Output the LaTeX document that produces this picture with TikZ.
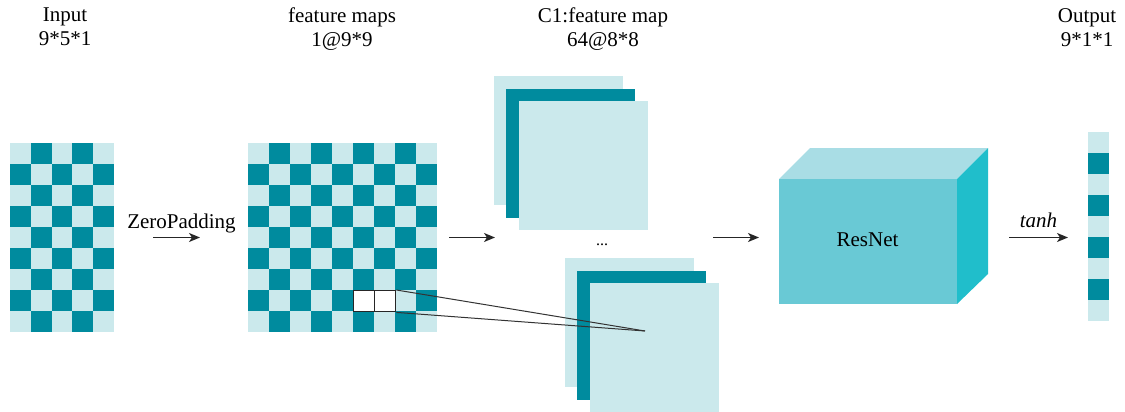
\documentclass[tikz,border=0pt]{standalone}
\usepackage{fontspec}
\setmainfont{Liberation Serif}
\usetikzlibrary{arrows.meta}
\definecolor{dk}{HTML}{008B9E}
\definecolor{lt}{HTML}{CBE9EC}
\definecolor{cubefront}{HTML}{69C9D5}
\definecolor{cubetop}{HTML}{A9DDE5}
\definecolor{cuberight}{HTML}{20BECB}
\begin{document}
\begin{tikzpicture}[x=1pt,y=-1pt,
  font=\fontsize{21}{24}\selectfont,
  arr/.style={-{Stealth[length=11pt,width=9pt,inset=3pt]}, line width=1.4pt, draw=black!85},
  lbl/.style={align=center, inner sep=0pt, anchor=north},
  winbox/.style={draw=black!85, line width=1.4pt, fill=white},
  cone/.style={draw=black!80, line width=1pt}]
\useasboundingbox (0,0) rectangle (1125,412);

% ---------- labels ----------
\node[lbl] (tin)  at (65,8)   {Input\\9*5*1};
\node[lbl] (tfm)  at (342,8)  {feature maps\\1@9*9};
\node[lbl] (tc1)  at (603,8)  {C1:feature map\\64@8*8};
\node[lbl] (tout) at (1087,8) {Output\\9*1*1};

% ---------- input grid 9x5 ----------
\fill[lt] (10,143) rectangle (114,332);
\foreach \r in {0,...,8}{
  \foreach \c in {0,...,4}{
    \ifodd\numexpr\r+\c\relax
      \fill[dk] ({10+20.8*\c},{143+21*\r}) rectangle ({10+20.8*(\c+1)},{143+21*(\r+1)});
    \fi
  }
}

% ---------- feature map grid 9x9 ----------
\fill[lt] (248,143) rectangle (437,332);
\foreach \r in {0,...,8}{
  \foreach \c in {0,...,8}{
    \ifodd\numexpr\r+\c\relax
      \fill[dk] ({248+21*\c},{143+21*\r}) rectangle ({248+21*(\c+1)},{143+21*(\r+1)});
    \fi
  }
}
\node[winbox, minimum width=21pt, minimum height=21pt, inner sep=0pt, anchor=north west] (w1) at (353,290) {};
\node[winbox, minimum width=21pt, minimum height=21pt, inner sep=0pt, anchor=north west] (w2) at (374,290) {};

% ---------- C1 stacks ----------
\fill[lt] (494,76) rectangle (623,205);
\fill[dk] (506,89) rectangle (635,218);
\fill[lt] (519,101) rectangle (648,230);

\fill[lt] (565,258) rectangle (694,387);
\fill[dk] (577,271) rectangle (706,400);
\node[fill=lt, inner sep=0pt, minimum width=129pt, minimum height=129pt, anchor=north west] (front) at (590,283) {};

\node[font=\fontsize{16}{18}\selectfont, anchor=base] (dots) at (602,245) {...};

% cone from window to front map
\coordinate (apex) at (645,331);
\draw[cone] (w2.north east) -- (apex);
\draw[cone] (w2.south east) -- (apex);

% ---------- ResNet cube ----------
\fill[cubetop] (779,179) -- (810,148) -- (988,148) -- (957,179) -- cycle;
\fill[cuberight] (957,179) -- (988,148) -- (988,274) -- (957,304) -- cycle;
\node[fill=cubefront, minimum width=178pt, minimum height=125pt, inner sep=0pt, anchor=north west] (resnet) at (779,179) {};
\node[anchor=base] (rtxt) at (867.5,246) {ResNet};

% ---------- output column ----------
\fill[lt] (1088,132) rectangle (1109,321);
\foreach \r in {1,3,5,7}{
  \fill[dk] (1088,{132+21*\r}) rectangle (1109,{132+21*(\r+1)});
}

% ---------- arrows ----------
\coordinate (a1s) at (153,237.5); \coordinate (a1e) at (200,237.5);
\coordinate (a2s) at (449,237.5); \coordinate (a2e) at (495,237.5);
\coordinate (a3s) at (713,237.5); \coordinate (a3e) at (759,237.5);
\coordinate (a4s) at (1009,237.5); \coordinate (a4e) at (1068,237.5);
\draw[arr] (a1s) -- (a1e);
\draw[arr] (a2s) -- (a2e);
\draw[arr] (a3s) -- (a3e);
\draw[arr] (a4s) -- (a4e);
\node[anchor=base] (zp) at (181.5,228) {ZeroPadding};
\node[anchor=base] (th) at (1038.5,227) {\itshape tanh};
\end{tikzpicture}
\end{document}
